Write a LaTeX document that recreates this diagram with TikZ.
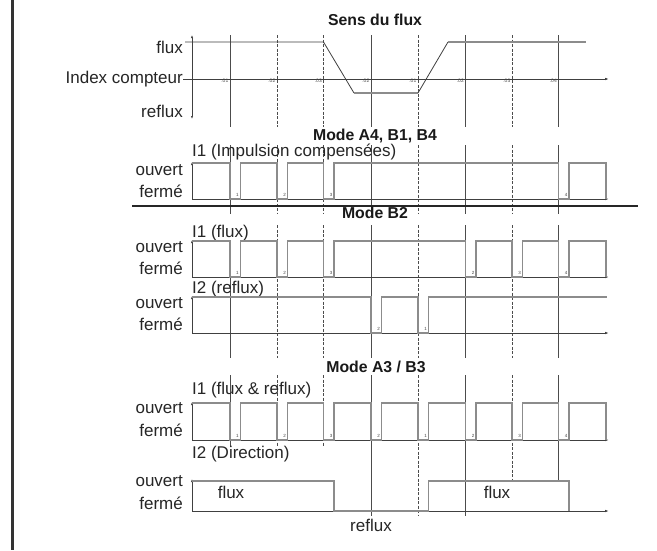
\documentclass[tikz,border=0pt]{standalone}
\usepackage{fontspec}
\setmainfont{Liberation Sans}
\usetikzlibrary{arrows.meta}
\begin{document}
\begin{tikzpicture}[x=1pt,y=-1pt,
  lbl/.style={font=\fontsize{17}{18}\selectfont, inner sep=0pt, text=black!85},
  ttl/.style={font=\bfseries\fontsize{15.8}{17}\selectfont, inner sep=0pt, text=black!90},
  tick/.style={font=\fontsize{5}{5}\selectfont, inner sep=0pt, text=black!70},
  num/.style={font=\fontsize{4.5}{5}\selectfont, inner sep=0pt, text=black!75},
  gsolid/.style={draw=black!70, line width=0.8pt},
  gdash/.style={draw=black!70, line width=0.7pt, dash pattern=on 3pt off 1.5pt},
  axis/.style={draw=black!75, line width=0.8pt},
  sig/.style={draw=black!45, line width=1.4pt},
  tip/.style={-{Latex[length=4pt,width=2.6pt]}},
  tiptop/.style={-{Latex[length=3pt,width=2.2pt]}},
]
\useasboundingbox (0,0) rectangle (657,550);
\fill[white] (0,0) rectangle (657,550);
% left border
\draw[line width=2.2pt, black!80] (12.5,0) -- (12.5,550);

% ---------- grid lines ----------
\foreach \x/\s in {230/gsolid,277/gdash,323.5/gdash,371/gsolid,418/gdash,465.5/gsolid,512/gdash,558.5/gsolid}{
  \draw[\s] (\x,35) -- (\x,127);
  \draw[\s] (\x,145) -- (\x,214);
}
\draw[gsolid] (230,241) -- (230,358);
\foreach \x/\s in {277/gdash,323.5/gdash,371/gsolid,418/gdash,465.5/gsolid,512/gdash,558.5/gsolid}{
  \draw[\s] (\x,225) -- (\x,358);
}
\foreach \x/\s/\e in {230/gsolid/447,277/gdash/447,323.5/gdash/447,371/gsolid/516,418/gdash/516,465.5/gsolid/516,512/gdash/481,558.5/gsolid/481}{
  \draw[\s] (\x,375) -- (\x,\e);
}

% ---------- Sens du flux ----------
\node[ttl, anchor=base] (tsens) at (375,25) {Sens du flux};
\node[lbl, anchor=base east] (lflux) at (183,53) {flux};
\node[lbl, anchor=base east] (lindex) at (183,83) {Index compteur};
\node[lbl, anchor=base east] (lreflux) at (183,117) {reflux};
\draw[axis, {Latex[length=3pt,width=2.2pt]}-{Latex[length=3pt,width=2.2pt]}] (192,35) -- (192,119);
\draw[axis, tip] (lindex.east |- 0,79) -- (609,79);
\draw[axis] (185,42) -- (323.5,42) -- (354,93);
\draw[sig] (354,93) -- (418,93);
\draw[axis] (418,93) -- (448,42);
\draw[sig] (448,42) -- (586,42);
\foreach \x/\t [count=\i] in {230/.01,277/.02,323.5/.03,371/.02,418/.01,465.5/.02,512/.03,558.5/.04}{
  \node[tick, anchor=base east] (tk\i) at (\x-1.5,82.5) {\t};
}

% ---------- Mode A4, B1, B4 ----------
\node[ttl, anchor=base] (tmodeA) at (375,140) {Mode A4, B1, B4};
\node[lbl, anchor=base west] (sA) at (192,156) {I1 (Impulsion compensées)};
\node[lbl, anchor=base east] (oA) at (183,175) {ouvert};
\node[lbl, anchor=base east] (fA) at (183,197) {fermé};
\draw[axis, tiptop] (192,199) -- (192,162);
\draw[axis, tip] (192,199) -- (609,199);
\draw[sig] (192,163) foreach \x in {230,277,323.5,558.5}{ -- (\x,163) -- (\x,199) -- (\x+10.5,199) -- (\x+10.5,163) } -- (606,163) -- (606,199);
\foreach \x/\n [count=\i] in {230/1,277/2,323.5/3,558.5/4}{
  \node[num, anchor=base] (nA\i) at (\x+7.5,196.5) {\n};
}
\draw[line width=1.1pt, black!85] (132,206) -- (638,206);

% ---------- Mode B2 ----------
\node[ttl, anchor=base] (tmodeB) at (375,218.5) {Mode B2};
\node[lbl, anchor=base west] (sB1) at (192,237) {I1 (flux)};
\node[lbl, anchor=base east] (oB1) at (183,252) {ouvert};
\node[lbl, anchor=base east] (fB1) at (183,274) {fermé};
\draw[axis, tiptop] (192,277) -- (192,240);
\draw[axis, tip] (192,277) -- (609,277);
\draw[sig] (192,241) foreach \x in {230,277,323.5,465.5,512,558.5}{ -- (\x,241) -- (\x,277) -- (\x+10.5,277) -- (\x+10.5,241) } -- (606,241) -- (606,277);
\foreach \x/\n [count=\i] in {230/1,277/2,323.5/3,465.5/2,512/3,558.5/4}{
  \node[num, anchor=base] (nB\i) at (\x+7.5,274.5) {\n};
}
\node[lbl, anchor=base west] (sB2) at (192,293) {I2 (reflux)};
\node[lbl, anchor=base east] (oB2) at (183,308) {ouvert};
\node[lbl, anchor=base east] (fB2) at (183,330) {fermé};
\draw[axis, tiptop] (192,333) -- (192,296);
\draw[axis, tip] (192,333) -- (609,333);
\draw[sig] (192,297) foreach \x in {371,418}{ -- (\x,297) -- (\x,333) -- (\x+10.5,333) -- (\x+10.5,297) } -- (607,297);
\foreach \x/\n [count=\i] in {371/2,418/1}{
  \node[num, anchor=base] (nC\i) at (\x+7.5,330.5) {\n};
}

% ---------- Mode A3 / B3 ----------
\node[ttl, anchor=base] (tmodeC) at (376,372) {Mode A3 / B3};
\node[lbl, anchor=base west] (sC1) at (192,394) {I1 (flux \& reflux)};
\node[lbl, anchor=base east] (oC1) at (183,413) {ouvert};
\node[lbl, anchor=base east] (fC1) at (183,436) {fermé};
\draw[axis, tiptop] (192,440) -- (192,402);
\draw[axis, tip] (192,440) -- (609,440);
\draw[sig] (192,403) foreach \x in {230,277,323.5,371,418,465.5,512,558.5}{ -- (\x,403) -- (\x,440) -- (\x+10.5,440) -- (\x+10.5,403) } -- (606,403) -- (606,440);
\foreach \x/\n [count=\i] in {230/1,277/2,323.5/3,371/2,418/1,465.5/2,512/3,558.5/4}{
  \node[num, anchor=base] (nD\i) at (\x+7.5,437.5) {\n};
}
\node[lbl, anchor=base west] (sC2) at (192,458) {I2 (Direction)};
\node[lbl, anchor=base east] (oC2) at (183,486) {ouvert};
\node[lbl, anchor=base east] (fC2) at (183,509) {fermé};
\draw[axis, tiptop] (192,511) -- (192,479);
\draw[axis, tip] (192,511) -- (609,511);
\draw[sig] (192,481) -- (334,481) -- (334,511) -- (428.5,511) -- (428.5,481) -- (569,481) -- (569,511);
\node[lbl, anchor=base] (fx1) at (231,498) {flux};
\node[lbl, anchor=base] (fx2) at (497,498) {flux};
\node[lbl, anchor=base] (rfx) at (371,531) {reflux};
\end{tikzpicture}
\end{document}
